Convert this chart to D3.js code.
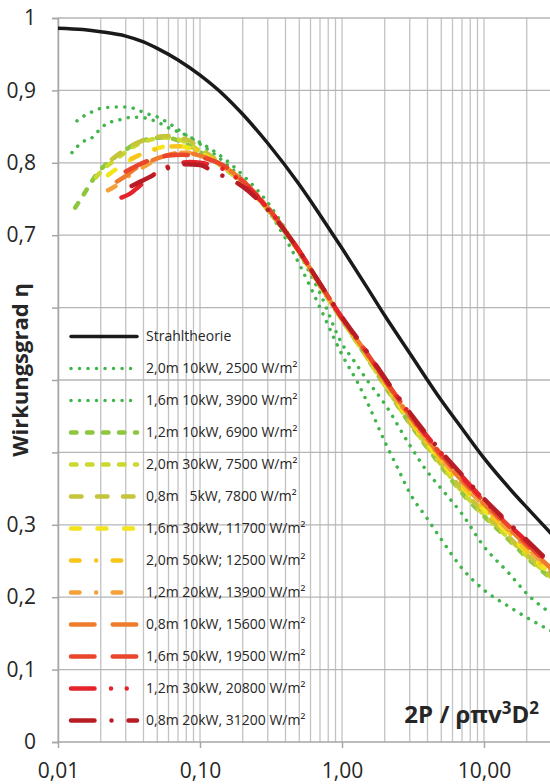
<!DOCTYPE html>
<html>
<head>
<meta charset="utf-8">
<script src="https://cdn.jsdelivr.net/npm/d3@7/dist/d3.min.js"></script>
<style>
  body { margin: 0; background: #fff; }
  text { font-family: "Open Sans", sans-serif; fill: #262626; }
</style>
</head>
<body>
<svg id="chart"></svg>
<script>
// --- data ---
const xTicks = [0.01, 0.1, 1, 10];
const xTickLabels = ["0,01", "0,10", "1,00", "10,00"];
const yTicks = [0, 0.1, 0.2, 0.3, 0.4, 0.5, 0.6, 0.7, 0.8, 0.9, 1];
const yTickLabels = ["0", "0,1", "0,2", "0,3", "0,4", "0,5", "0,6", "0,7", "0,8", "0,9", "1"];

const seriesNames = [
  "Strahltheorie",
  "2,0m 10kW, 2500 W/m²",
  "1,6m 10kW, 3900 W/m²",
  "1,2m 10kW, 6900 W/m²",
  "2,0m 30kW, 7500 W/m²",
  "0,8m   5kW, 7800 W/m²",
  "1,6m 30kW, 11700 W/m²",
  "2,0m 50kW; 12500 W/m²",
  "1,2m 20kW, 13900 W/m²",
  "0,8m 10kW, 15600 W/m²",
  "1,6m 50kW, 19500 W/m²",
  "1,2m 30kW, 20800 W/m²",
  "0,8m 20kW, 31200 W/m²"
];

const strahltheorie = [[0.01,.986],[0.015,.984],[0.02,.981],[0.03,.975],[0.04,.967],[0.05,.958],[0.07,.942],[0.1,.921],[0.15,.892],[0.2,.867],[0.3,.827],[0.5,.770],[0.7,.728],[1,.682],[1.5,.628],[2,.589],[3,.537],[5,.472],[7,.433],[10,.392],[15,.351],[20,.324],[30,.287]];
const s2500 = [[0.0136,.858],[0.015,.864],[0.0168,.869],[0.0191,.874],[0.0214,.876],[0.0244,.877],[0.0273,.877],[0.0311,.877],[0.0354,.874],[0.0397,.870],[0.0452,.866],[0.0506,.863],[0.0576,.857],[0.0667,.849],[0.08,.838],[0.1,.826],[0.15,.80],[0.2,.777],[0.3,.735],[0.5,.66],[0.7,.60],[1,.535],[1.3,.495],[1.5,.47],[2,.415],[2.5,.376],[3,.344],[4,.308],[5,.28],[7,.24],[10,.21],[15,.187],[20,.172],[30,.153]];
const s3900 = [[0.01255,.814],[0.0136,.822],[0.015,.829],[0.0177,.836],[0.0201,.848],[0.0225,.855],[0.0256,.858],[0.0292,.861],[0.0332,.863],[0.0378,.863],[0.0444,.86],[0.0506,.856],[0.0567,.851],[0.0635,.846],[0.07,.843],[0.0784,.839],[0.09,.833],[0.1,.828],[0.15,.805],[0.2,.783],[0.3,.745],[0.5,.675],[0.7,.62],[1,.55],[1.2,.528],[1.5,.50],[2,.467],[3,.41],[4,.373],[5,.35],[7,.315],[10,.27],[15,.233],[20,.205],[30,.177]];
const s6900 = [[0.0132,.738],[0.0147,.752],[0.017,.772],[0.019,.786],[0.021,.795],[0.0235,.803],[0.026,.810],[0.03,.818],[0.034,.825],[0.04,.831],[0.047,.834],[0.055,.835],[0.065,.833],[0.08,.826],[0.1,.815],[0.15,.792],[0.2,.772],[0.3,.735],[0.5,.676],[0.7,.630],[1,.583],[1.5,.531],[2,.492],[3,.440],[5,.381],[7,.344],[10,.312],[15,.279],[20,.255],[30,.225]];
const s7500 = [[0.0185,.780],[0.021,.792],[0.025,.803],[0.03,.815],[0.036,.825],[0.045,.832],[0.055,.835],[0.065,.834],[0.08,.828],[0.1,.816],[0.15,.792],[0.2,.772],[0.3,.735],[0.5,.676],[0.7,.630],[1,.583],[1.5,.531],[2,.493],[3,.441],[5,.383],[7,.346],[10,.314],[15,.281],[20,.257],[30,.227]];
const s7800 = [[0.024,.805],[0.028,.815],[0.033,.824],[0.04,.831],[0.05,.836],[0.06,.837],[0.07,.835],[0.085,.830],[0.1,.820],[0.15,.795],[0.2,.773],[0.3,.736],[0.5,.677],[0.7,.631],[1,.584],[1.5,.532],[2,.494],[3,.442],[5,.385],[7,.349],[10,.317],[15,.283],[20,.259],[30,.229]];
const s11700 = [[0.0225,.783],[0.026,.792],[0.03,.800],[0.035,.808],[0.042,.815],[0.05,.820],[0.06,.823],[0.07,.823],[0.085,.820],[0.1,.814],[0.15,.793],[0.2,.774],[0.3,.737],[0.5,.678],[0.7,.632],[1,.585],[1.5,.534],[2,.496],[3,.445],[5,.388],[7,.353],[10,.321],[15,.287],[20,.262],[30,.231]];
const s12500 = [[0.033,.806],[0.04,.813],[0.05,.819],[0.06,.822],[0.07,.823],[0.085,.821],[0.1,.815],[0.15,.793],[0.2,.774],[0.3,.737],[0.5,.678],[0.7,.632],[1,.585],[1.5,.534],[2,.497],[3,.446],[5,.389],[7,.355],[10,.323],[15,.289],[20,.264],[30,.233]];
const s13900 = [[0.0225,.762],[0.0255,.768],[0.03,.779],[0.036,.789],[0.043,.798],[0.05,.805],[0.06,.811],[0.07,.814],[0.085,.814],[0.1,.811],[0.15,.793],[0.2,.774],[0.3,.738],[0.5,.678],[0.7,.632],[1,.585],[1.5,.535],[2,.498],[3,.448],[5,.392],[7,.358],[10,.326],[15,.292],[20,.268],[30,.236]];
const s15600 = [[0.026,.774],[0.03,.782],[0.035,.792],[0.042,.800],[0.05,.806],[0.06,.811],[0.07,.813],[0.085,.813],[0.1,.810],[0.15,.794],[0.2,.775],[0.3,.738],[0.5,.678],[0.7,.632],[1,.585],[1.5,.536],[2,.499],[3,.450],[5,.394],[7,.361],[10,.329],[15,.295],[20,.271],[30,.239]];
const s19500 = [[0.03,.788],[0.035,.795],[0.042,.802],[0.05,.807],[0.06,.810],[0.075,.811],[0.09,.810],[0.1,.808],[0.15,.795],[0.2,.775],[0.3,.738],[0.5,.678],[0.7,.633],[1,.586],[1.5,.537],[2,.501],[3,.452],[5,.397],[7,.364],[10,.332],[15,.298],[20,.274],[30,.241]];
const s20800 = [[0.028,.752],[0.032,.757],[0.037,.767],[0.043,.778],[0.05,.787],[0.06,.795],[0.07,.799],[0.085,.801],[0.1,.800],[0.15,.790],[0.2,.772],[0.3,.737],[0.5,.678],[0.7,.633],[1,.586],[1.5,.538],[2,.502],[3,.453],[5,.399],[7,.367],[10,.334],[15,.300],[20,.277],[30,.243]];
const s31200 = [[0.033,.768],[0.038,.774],[0.045,.781],[0.055,.790],[0.065,.795],[0.08,.798],[0.1,.797],[0.13,.785],[0.15,.781],[0.2,.767],[0.3,.735],[0.5,.678],[0.7,.633],[1,.587],[1.5,.539],[2,.503],[3,.455],[5,.401],[7,.369],[10,.336],[15,.302],[20,.279],[30,.245]];

const seriesData = [strahltheorie, s2500, s3900, s6900, s7500, s7800, s11700, s12500, s13900, s15600, s19500, s20800, s31200];

// --- styles (kept apart from the values) ---
const seriesStyles = [
  { color: "#1a1a1a", width: 3.5, dash: null },
  { color: "#3fb54a", width: 3.5, dash: "0.01,8.5" },
  { color: "#3fb54a", width: 3.5, dash: "0.01,8.5" },
  { color: "#8dc63f", width: 4.5, dash: "5.5,10.5" },
  { color: "#cbd82f", width: 4.5, dash: "5.5,10.5" },
  { color: "#c4c53a", width: 4.5, dash: "10.5,15.5" },
  { color: "#f4e41b", width: 4.5, dash: "9,17.5" },
  { color: "#f8c51c", width: 4.5, dash: "8.5,16.6,0.01,16.6" },
  { color: "#f5a13b", width: 4.5, dash: "8.5,16.6,0.01,16.6" },
  { color: "#ef7b2c", width: 4.5, dash: "23.5,18.2" },
  { color: "#e9462b", width: 4.5, dash: "23.5,18.2" },
  { color: "#e4232a", width: 4.5, dash: "23.5,16.5,0.01,15.7,0.01,16.5" },
  { color: "#b81d25", width: 4.5, dash: "23.5,17,0.01,17" }
];

const width = 550, height = 784;
const plotLeft = 58, plotTop = 18, plotBottom = 742;

const svg = d3.select("#chart").attr("width", width).attr("height", height);

const x = d3.scaleLog().domain([0.01, 30]).range([plotLeft, plotLeft + 142 * Math.log10(3000)]);
const y = d3.scaleLinear().domain([0, 1]).range([plotBottom, plotTop]);

// gridlines
const minor = [];
[0.01, 0.1, 1, 10].forEach(d => d3.range(1, 10).forEach(m => { if (d * m <= 30) minor.push(d * m); }));

const grid = svg.append("g");
grid.selectAll("line.v").data(minor).enter().append("line")
  .attr("x1", d => x(d)).attr("x2", d => x(d))
  .attr("y1", plotTop).attr("y2", plotBottom)
  .attr("stroke", "#c3c3c3").attr("stroke-width", 1.3);
grid.selectAll("line.h").data(yTicks.slice(1)).enter().append("line")
  .attr("x1", plotLeft).attr("x2", width)
  .attr("y1", d => y(d)).attr("y2", d => y(d))
  .attr("stroke", "#b5b5b5").attr("stroke-width", 1.3);

// axes
const yAxis = svg.append("g").attr("transform", `translate(${plotLeft},0)`)
  .call(d3.axisLeft(y).tickValues(yTicks).tickSize(6).tickPadding(16)
    .tickFormat((d, i) => yTickLabels[i]));
const xAxis = svg.append("g").attr("transform", `translate(0,${plotBottom})`)
  .call(d3.axisBottom(x).tickValues(xTicks).tickSize(6).tickPadding(15)
    .tickFormat((d, i) => xTickLabels[i]));

[yAxis, xAxis].forEach(a => {
  a.select(".domain").attr("stroke", "#a6a6a6").attr("stroke-width", 1.5);
  a.selectAll(".tick line").attr("stroke", "#a6a6a6").attr("stroke-width", 1.5);
  a.selectAll(".tick text").style("font-size", "21px").attr("fill", "#262626");
});
xAxis.select(".domain").attr("d", `M${plotLeft},0H${width}`);

// curves
svg.append("clipPath").attr("id", "plot").append("rect")
  .attr("x", plotLeft).attr("y", plotTop).attr("width", width - plotLeft).attr("height", plotBottom - plotTop);

const line = d3.line().x(d => x(d[0])).y(d => y(d[1])).curve(d3.curveMonotoneX);

const curves = svg.append("g").attr("clip-path", "url(#plot)");
seriesData.forEach((data, i) => {
  const st = seriesStyles[i];
  curves.append("path")
    .attr("d", line(data))
    .attr("fill", "none")
    .attr("stroke", st.color)
    .attr("stroke-width", st.width)
    .attr("stroke-linecap", "round")
    .attr("stroke-dasharray", st.dash);
});

// legend
const legend = svg.append("g");
seriesNames.forEach((name, i) => {
  const st = seriesStyles[i];
  const ly = 336.5 + i * 32;
  legend.append("path")
    .attr("d", `M71,${ly}H137`)
    .attr("stroke", st.color)
    .attr("stroke-width", st.width)
    .attr("stroke-linecap", "round")
    .attr("stroke-dasharray", st.dash);
  legend.append("text")
    .attr("x", 146).attr("y", ly).attr("dy", "0.35em")
    .style("font-size", "14px")
    .style("white-space", "pre")
    .text(name);
});

// axis titles (the y title box sits over the middle tick labels, as in the original)
svg.append("rect")
  .attr("x", 2).attr("y", 278).attr("width", 46).attr("height", 186)
  .attr("fill", "#fff");
svg.append("text")
  .attr("transform", "translate(28,370) rotate(-90)")
  .attr("text-anchor", "middle")
  .style("font-size", "22px").style("font-weight", "bold")
  .text("Wirkungsgrad η");

const xt = svg.append("text")
  .attr("x", 539).attr("y", 723)
  .attr("text-anchor", "end")
  .style("font-size", "24px").style("font-weight", "bold");
xt.append("tspan").text("2P / ρπv");
xt.append("tspan").attr("dy", -9).style("font-size", "17px").text("3");
xt.append("tspan").attr("dy", 9).text("D");
xt.append("tspan").attr("dy", -9).style("font-size", "17px").text("2");
</script>
</body>
</html>
